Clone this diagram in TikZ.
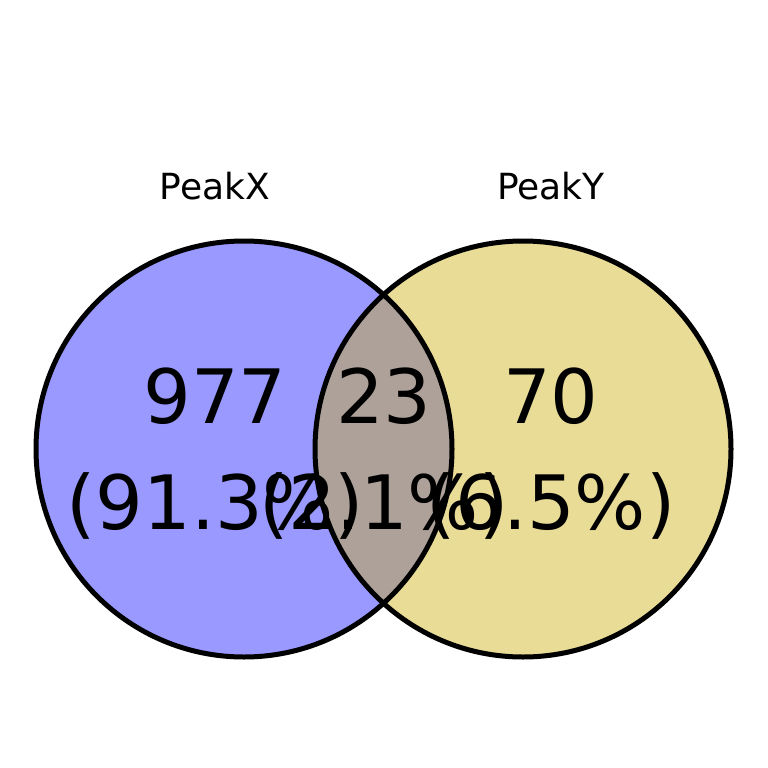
\documentclass[tikz,border=0pt]{standalone}
\usepackage{fontspec}
\setmainfont{DejaVu Sans}
\usepackage{xcolor}
\usetikzlibrary{positioning}
\definecolor{setx}{HTML}{9999FF}
\definecolor{sety}{HTML}{E8DC96}
\definecolor{setxy}{HTML}{ADA199}
\begin{document}
\begin{tikzpicture}[x=1pt, y=-1pt,
    setline/.style={draw=black, line width=5pt},
    title/.style={font=\fontsize{36}{42}\selectfont, anchor=center},
    count/.style={font=\fontsize{75}{90}\selectfont, anchor=center},
  ]
  \useasboundingbox (0,0) rectangle (768,768);
  % filled regions
  \fill[setx] (244,449) circle[radius=208];
  \fill[sety] (523,449) circle[radius=208];
  \begin{scope}
    \clip (244,449) circle[radius=208];
    \fill[setxy] (523,449) circle[radius=208];
  \end{scope}
  \draw[setline] (244,449) circle[radius=208];
  \draw[setline] (523,449) circle[radius=208];
  % set names
  \node[title] (namex) at (215,186) {PeakX};
  \node[title] (namey) at (551,186) {PeakY};
  % counts and shares
  \node[count] (cntx) at (215,396) {977};
  \node[count] (cntxy) at (384,396) {23};
  \node[count] (cnty) at (551,396) {70};
  \node[count] (pctx) at (215,506) {(91.3\%)};
  \node[count] (pctxy) at (384,506) {(2.1\%)};
  \node[count] (pcty) at (551,506) {(6.5\%)};
\end{tikzpicture}
\end{document}
